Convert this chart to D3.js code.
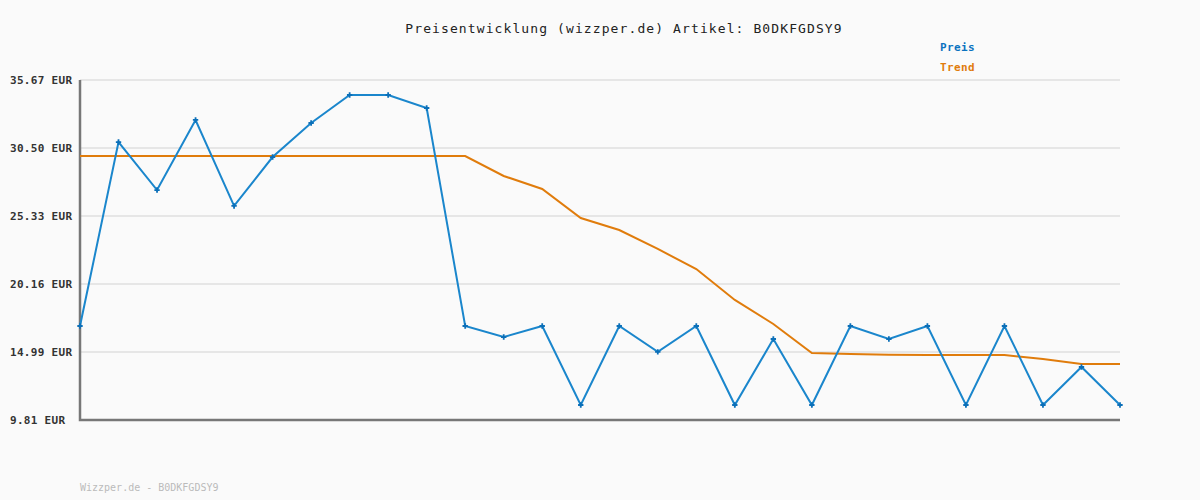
<!DOCTYPE html>
<html>
<head>
<meta charset="utf-8">
<script src="https://cdn.jsdelivr.net/npm/d3@7"></script>
<style>
    body { margin: 0; background: #fafafa; }
    text { font-family: "DejaVu Sans Mono", "Liberation Mono", monospace; }
</style>
</head>
<body>
<div id="chart"></div>
<script>
// Preisverlauf pro Messpunkt (28 Punkte)
const preis = [16.96, 30.95, 27.30, 32.63, 26.09, 29.81, 32.40, 34.53, 34.53, 33.54,
    16.96, 16.12, 16.96, 10.95, 16.96, 14.99, 16.96, 10.95, 15.97, 10.95,
    16.96, 15.97, 16.96, 10.95, 16.96, 10.95, 13.84, 10.95];
const trend = [29.89, 29.89, 29.89, 29.89, 29.89, 29.89, 29.89, 29.89, 29.89, 29.89,
    29.89, 28.37, 27.38, 25.17, 24.26, 22.82, 21.29, 18.94, 17.11, 14.91,
    14.83, 14.78, 14.75, 14.75, 14.75, 14.45, 14.07, 14.07];
const yTicks = [9.81, 14.99, 20.16, 25.33, 30.50, 35.67];
const serien = ["Preis", "Trend"];
const farben = ["#1a86cc", "#e07c0c"];
const artikel = "B0DKFGDSY9";

const margin = { top: 80, right: 80, bottom: 80, left: 80 },
    width = 1200 - margin.left - margin.right,
    height = 500 - margin.top - margin.bottom;

const root = d3.select("#chart")
    .append("svg")
    .attr("width", 1200)
    .attr("height", 500)
    .style("background", "#fafafa");

const svg = root.append("g")
    .attr("transform", `translate(${margin.left},${margin.top})`);

const x = d3.scaleLinear()
    .domain([0, preis.length - 1])
    .range([0, width]);

const y = d3.scaleLinear()
    .domain([yTicks[0], yTicks[yTicks.length - 1]])
    .range([height, 0]);

// Gitterlinien
svg.append("g")
    .selectAll("line")
    .data(yTicks.slice(1))
    .enter()
    .append("line")
    .attr("x1", 0)
    .attr("x2", width)
    .attr("y1", d => y(d))
    .attr("y2", d => y(d))
    .attr("stroke", "#e6e6e6")
    .attr("stroke-width", 2);

// Y-Achse
const yAxis = svg.append("g")
    .call(d3.axisLeft(y).tickValues(yTicks).tickSize(0).tickFormat(d => d.toFixed(2) + " EUR"));
yAxis.select(".domain").remove();
yAxis.selectAll("text")
    .attr("text-anchor", "start")
    .attr("x", 10 - margin.left)
    .attr("dy", "0.32em")
    .style("font-family", "'DejaVu Sans Mono', monospace")
    .style("font-size", "11px")
    .style("font-weight", "bold")
    .style("letter-spacing", "0.3px")
    .attr("fill", "#333");

// Achsenlinien
svg.append("path")
    .attr("d", `M0,0V${height}H${width}`)
    .attr("fill", "none")
    .attr("stroke", "#777")
    .attr("stroke-width", 2.5);

const line = d3.line()
    .x((d, i) => x(i))
    .y(d => y(d));

svg.append("path")
    .datum(trend)
    .attr("fill", "none")
    .attr("stroke", farben[1])
    .attr("stroke-width", 2)
    .attr("d", line);

svg.append("path")
    .datum(preis)
    .attr("fill", "none")
    .attr("stroke", farben[0])
    .attr("stroke-width", 2)
    .attr("d", line);

svg.selectAll(".punkt")
    .data(preis)
    .enter()
    .append("path")
    .attr("class", "punkt")
    .attr("transform", (d, i) => `translate(${x(i)},${y(d)})`)
    .attr("d", d3.symbol().type(d3.symbolCross).size(16))
    .attr("fill", "#0b6fb8");

// Titel
root.append("text")
    .attr("x", 624)
    .attr("y", 33)
    .attr("text-anchor", "middle")
    .style("font-size", "13px")
    .style("letter-spacing", "1.1px")
    .attr("fill", "#222")
    .text(`Preisentwicklung (wizzper.de) Artikel: ${artikel}`);

// Legende
root.selectAll(".legende")
    .data(serien)
    .enter()
    .append("text")
    .attr("class", "legende")
    .attr("x", 940)
    .attr("y", (d, i) => 51 + i * 20)
    .style("font-size", "11px")
    .style("font-weight", "bold")
    .style("letter-spacing", "0.4px")
    .attr("fill", (d, i) => i === 0 ? "#0a72c0" : farben[1])
    .text(d => d);

// Fußzeile
root.append("text")
    .attr("x", 80)
    .attr("y", 491)
    .style("font-size", "10px")
    .attr("fill", "#bbb")
    .text(`Wizzper.de - ${artikel}`);
</script>
</body>
</html>
